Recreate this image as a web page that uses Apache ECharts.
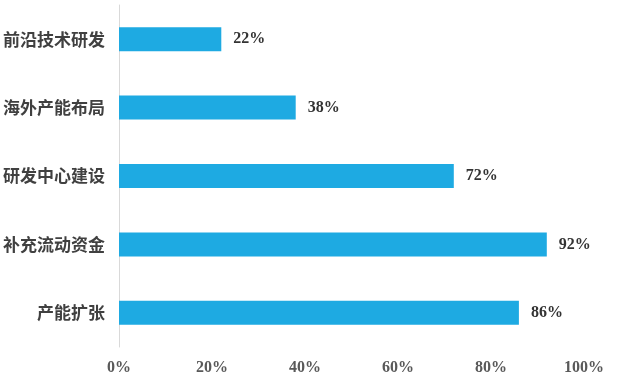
<!DOCTYPE html>
<html><head><meta charset="utf-8">
<script src="https://cdn.jsdelivr.net/npm/echarts@6/dist/echarts.min.js"></script>
<style>html,body{margin:0;padding:0;background:#fff}#c{width:618px;height:384px}</style>
</head><body><div id="c"></div>
<script>
const categories = ['前沿技术研发','海外产能布局','研发中心建设','补充流动资金','产能扩张'];
const values = [22, 38, 72, 92, 86];
const xTicks = [0, 20, 40, 60, 80, 100];

const chart = echarts.init(document.getElementById('c'));
chart.setOption({
  animation: false,
  grid: {left: 119, right: 34, top: 5, bottom: 37, containLabel: false},
  xAxis: {
    type: 'value', min: xTicks[0], max: xTicks[xTicks.length-1], interval: 20,
    axisLine: {show: false}, axisTick: {show: false}, splitLine: {show: false},
    axisLabel: {formatter: '{value}%', margin: 13, color: '#595959',
      fontFamily: 'Liberation Serif', fontWeight: 'bold', fontSize: 16}
  },
  yAxis: {
    type: 'category', data: categories, inverse: true,
    axisLine: {show: true, lineStyle: {color: '#d9d9d9', width: 1}},
    axisTick: {show: false},
    axisLabel: {margin: 14, color: '#404040', fontFamily: 'Noto Sans CJK SC',
      fontWeight: 'bold', fontSize: 17}
  },
  series: [{
    type: 'bar', data: values, barWidth: 24,
    itemStyle: {color: '#1EAAE2'},
    label: {show: true, position: 'right', distance: 12, formatter: '{c}%',
      color: '#333', fontFamily: 'Liberation Serif', fontWeight: 'bold', fontSize: 16}
  }]
});
</script></body></html>
